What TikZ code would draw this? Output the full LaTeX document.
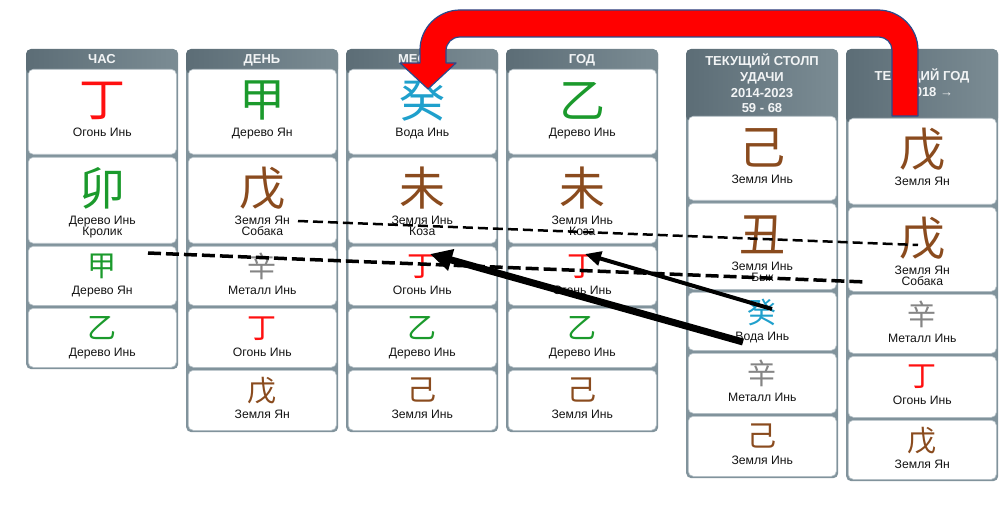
\documentclass[tikz,border=0pt]{standalone}
\usepackage{fontspec}
\setmainfont{Liberation Sans}
\newfontfamily\cjk{Noto Sans CJK SC}
\usetikzlibrary{calc,arrows.meta}
\definecolor{panelgray}{HTML}{81939C}
\definecolor{hdrdark}{HTML}{5C6D76}
\definecolor{hdrlight}{HTML}{7B8C94}
\definecolor{cardline}{HTML}{B8C3C9}
\definecolor{hdrtxt}{HTML}{F2F4F5}
\definecolor{labtext}{HTML}{141414}
\definecolor{fire}{HTML}{FF1010}
\definecolor{wood}{HTML}{1B9A2C}
\definecolor{earth}{HTML}{8A4B1E}
\definecolor{water}{HTML}{1FA0CC}
\definecolor{metal}{HTML}{858585}
\definecolor{bigred}{HTML}{FF0000}
\definecolor{redline}{HTML}{2B4A8C}
\tikzset{
  panelbox/.style={fill=panelgray, draw=none, rounded corners=5pt, inner sep=0pt, minimum width=152pt, anchor=north west},
  hdrshade/.style={left color=hdrdark, right color=hdrlight, rounded corners=5pt},
  card/.style={fill=white, draw=cardline, line width=0.6pt, rounded corners=5pt, minimum width=148pt, inner sep=0pt, anchor=north west},
  hdrtext/.style={text=hdrtxt, font=\fontsize{13}{15.7}\selectfont\bfseries, align=center, inner sep=0pt},
  bigch/.style={font=\cjk\fontsize{46}{46}\selectfont, inner sep=0pt},
  smch/.style={font=\cjk\fontsize{29}{29}\selectfont, inner sep=0pt},
  lab/.style={font=\fontsize{12.2}{11}\selectfont, inner sep=0pt, anchor=base, text=labtext},
  dashthin/.style={draw=black, dash pattern=on 10pt off 5pt, line width=2.5pt},
  dashthick/.style={draw=black, dash pattern=on 13pt off 5pt, line width=3.5pt},
  bigarrow/.style={draw=black, line width=7pt, -{Triangle[length=22pt,width=21pt]}},
  thinarrow/.style={draw=black, line width=4pt, -{Triangle[length=16pt,width=14pt]}},
  redarrow/.style={fill=bigred, draw=redline, line width=1.2pt, line join=round}
}
% #1 name, #2 panel x, #3 top, #4 bottom, #5 char, #6 colour, #7 line 1, #8 line 2
\newcommand\bzbig[8]{%
  \node[card, minimum height={#4-#3}] (#1) at (#2+2,#3) {};
  \node[bigch, text=#6] (#1-c) at ($(#1.north)+(0,31.5)$) {#5};
  \node[lab] (#1-l) at ($(#1.north)+(0,67.5)$) {#7};
  \ifx\relax#8\relax\else
  \node[lab] (#1-m) at ($(#1.north)+(0,78.5)$) {#8};
  \fi
}
\newcommand\bzsmall[7]{%
  \node[card, minimum height={#4-#3}] (#1) at (#2+2,#3) {};
  \node[smch, text=#6] (#1-c) at ($(#1.north)+(0,20.5)$) {#5};
  \node[lab] (#1-l) at ($(#1.north)+(0,48.5)$) {#7};
}
\newcommand\bzpanel[4]{% #1 name, #2 x, #3 bottom, #4 header bottom
  \node[panelbox, minimum height={#3-49}] (#1) at (#2,49) {};
  \shade[hdrshade] (#2,49) rectangle (#2+152,#4+6);
}
\begin{document}
\begin{tikzpicture}[x=1pt,y=-1pt]
\useasboundingbox (0,0) rectangle (1007,505);
\fill[white] (0,0) rectangle (1007,505);

% ---------- panels ----------
\bzpanel{p1}{26}{369}{68}
\bzpanel{p2}{186}{432}{68}
\bzpanel{p3}{346}{432}{68}
\bzpanel{p4}{506}{432}{68}
\bzpanel{p5}{686}{478}{115}
\bzpanel{p6}{846}{481}{117}

% ---------- headers ----------
\node[hdrtext, text depth=0pt] (h1) at (102,59) {ЧАС};
\node[hdrtext, text depth=0pt] (h2) at (262,59) {ДЕНЬ};
\node[hdrtext, text depth=0pt] (h3) at (422,59) {МЕСЯЦ};
\node[hdrtext, text depth=0pt] (h4) at (582,59) {ГОД};
\node[hdrtext] (h5) at (762,83.5) {ТЕКУЩИЙ СТОЛП\\УДАЧИ\\2014-2023\\59 - 68};
\node[hdrtext] (h6) at (922,83) {ТЕКУЩИЙ ГОД\\{\mdseries ←} 2018 {\mdseries →}};

% ---------- column 1: ЧАС ----------
\bzbig{c11}{26}{69}{154}{丁}{fire}{Огонь Инь}{}
\bzbig{c12}{26}{157}{243}{卯}{wood}{Дерево Инь}{Кролик}
\bzsmall{c13}{26}{246}{305}{甲}{wood}{Дерево Ян}
\bzsmall{c14}{26}{308}{367}{乙}{wood}{Дерево Инь}

% ---------- column 2: ДЕНЬ ----------
\bzbig{c21}{186}{69}{154}{甲}{wood}{Дерево Ян}{}
\bzbig{c22}{186}{157}{243}{戊}{earth}{Земля Ян}{Собака}
\bzsmall{c23}{186}{246}{305}{辛}{metal}{Металл Инь}
\bzsmall{c24}{186}{308}{367}{丁}{fire}{Огонь Инь}
\bzsmall{c25}{186}{370}{430}{戊}{earth}{Земля Ян}

% ---------- column 3: МЕСЯЦ ----------
\bzbig{c31}{346}{69}{154}{癸}{water}{Вода Инь}{}
\bzbig{c32}{346}{157}{243}{未}{earth}{Земля Инь}{Коза}
\bzsmall{c33}{346}{246}{305}{丁}{fire}{Огонь Инь}
\bzsmall{c34}{346}{308}{367}{乙}{wood}{Дерево Инь}
\bzsmall{c35}{346}{370}{430}{己}{earth}{Земля Инь}

% ---------- column 4: ГОД ----------
\bzbig{c41}{506}{69}{154}{乙}{wood}{Дерево Инь}{}
\bzbig{c42}{506}{157}{243}{未}{earth}{Земля Инь}{Коза}
\bzsmall{c43}{506}{246}{305}{丁}{fire}{Огонь Инь}
\bzsmall{c44}{506}{308}{367}{乙}{wood}{Дерево Инь}
\bzsmall{c45}{506}{370}{430}{己}{earth}{Земля Инь}

% ---------- column 5: ТЕКУЩИЙ СТОЛП ----------
\bzbig{c51}{686}{116}{200}{己}{earth}{Земля Инь}{}
\bzbig{c52}{686}{203}{289}{丑}{earth}{Земля Инь}{Бык}
\bzsmall{c53}{686}{292}{350}{癸}{water}{Вода Инь}
\bzsmall{c54}{686}{353}{413}{辛}{metal}{Металл Инь}
\bzsmall{c55}{686}{416}{476}{己}{earth}{Земля Инь}

% ---------- column 6: ТЕКУЩИЙ ГОД ----------
\bzbig{c61}{846}{118}{204}{戊}{earth}{Земля Ян}{}
\bzbig{c62}{846}{207}{291}{戊}{earth}{Земля Ян}{Собака}
\bzsmall{c63}{846}{294}{353}{辛}{metal}{Металл Инь}
\bzsmall{c64}{846}{356}{417}{丁}{fire}{Огонь Инь}
\bzsmall{c65}{846}{420}{479}{戊}{earth}{Земля Ян}

% ---------- dashed lines ----------
\coordinate (d1s) at (298,221);
\coordinate (d1e) at (918,245);
\coordinate (d2s) at (148,253);
\coordinate (d2e) at (866,282);
\draw[dashthin] (d1s) -- (d1e);
\draw[dashthick] (d2s) -- (d2e);

% ---------- black arrows ----------
\coordinate (a1s) at (743,342);
\coordinate (a1e) at (430,254);
\coordinate (a2s) at (772,309);
\coordinate (a2e) at (585,254);
\draw[bigarrow] (a1s) -- (a1e);
\draw[thinarrow] (a2s) -- (a2e);

% ---------- red bent arrow ----------
\filldraw[redarrow] (918,116) -- (918,50)
  .. controls (918,28) and (900,10) .. (878,10)
  -- (460,10)
  .. controls (438,10) and (420,28) .. (420,50)
  -- (420,63) -- (400,63) -- (428,89) -- (456,63) -- (446,63) -- (446,51)
  .. controls (446,43) and (452,37) .. (460,37)
  -- (879,37)
  .. controls (886,37) and (892,43) .. (892,50)
  -- (892,116) -- cycle;
\end{tikzpicture}
\end{document}
